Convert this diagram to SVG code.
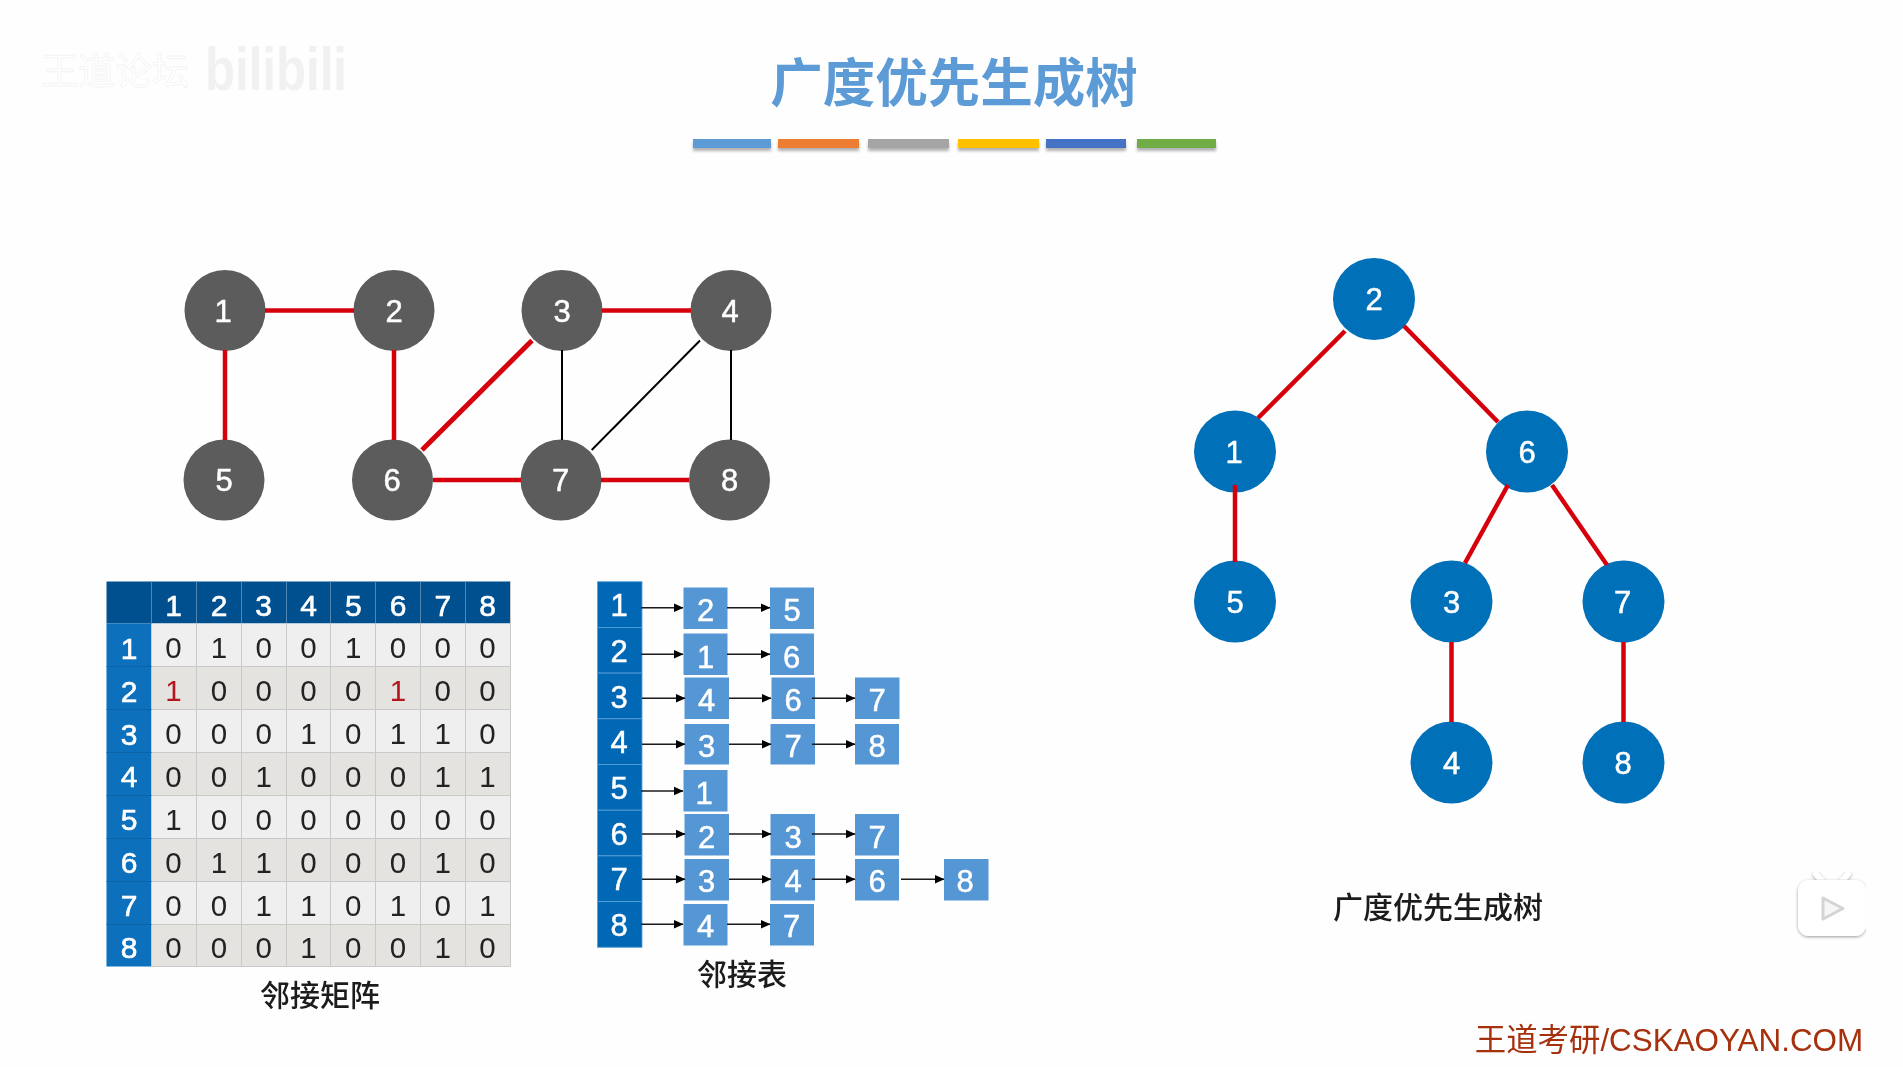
<svg xmlns="http://www.w3.org/2000/svg" width="1903" height="1067" viewBox="0 0 1903 1067">
<style>
text{font-family:"Liberation Sans",Arial,"Noto Sans CJK SC",sans-serif;text-anchor:middle}
.cjk{font-family:"Noto Sans CJK SC","Liberation Sans",sans-serif}
.n{font-size:31px;fill:#fff;stroke:#fff;stroke-width:.5}
.c{font-size:29.500px;fill:#222}
.h{font-size:30px;fill:#fff;stroke:#fff;stroke-width:.6}
.r{fill:#b3141c}
.lab{font-size:30px;font-weight:500;fill:#1a1a1a}
.gn{fill:#5b5b5b}
.tn{fill:#0570b8}
.red{stroke:#d6000a;stroke-width:4.500;fill:none}
.blk{stroke:#000;stroke-width:2;fill:none}
.arr{stroke:#1a1a1a;stroke-width:1.400;fill:none;marker-end:url(#ah)}
.box{fill:#5596d4}
.cell{stroke:#c9c9c9;stroke-width:1}
.odd{fill:#efefef}
.even{fill:#e4e3df}
.hd{fill:#0068b4;stroke:#5aa0d8;stroke-width:.8}
</style>
<defs>
<marker id="ah" markerUnits="userSpaceOnUse" markerWidth="10" markerHeight="10" refX="9.500" refY="5" orient="auto"><path d="M0 .5L10 5L0 9.500z" fill="#000"/></marker>
<filter id="sh" x="-10%" y="-50%" width="120%" height="220%"><feGaussianBlur stdDeviation="1.500"/></filter>
<filter id="ps" x="-20%" y="-20%" width="140%" height="140%"><feDropShadow dx="0" dy="1" stdDeviation="1.500" flood-color="#000" flood-opacity=".4"/></filter>
<filter id="soft" x="0" y="0" width="100%" height="100%"><feGaussianBlur stdDeviation=".45"/></filter>
</defs>
<rect width="1903" height="1067" fill="#fefefe"/>

<g filter="url(#soft)">
<g id="watermark">
<text class="cjk" x="115" y="85" font-size="37" fill="#fff" stroke="#f3f3f3" stroke-width=".8">王道论坛</text>
<text x="276" y="90" font-size="62" font-weight="700" fill="#f1f1f1" textLength="142" lengthAdjust="spacingAndGlyphs">bilibili</text>
</g>

<g id="title">
<text class="cjk" x="954" y="102" font-size="52.500" font-weight="700" fill="#5b9bd5">广度优先生成树</text>
<g fill="#000" opacity=".3" filter="url(#sh)">
<rect x="693" y="142" width="78" height="9"/><rect x="778" y="142" width="81" height="9"/><rect x="868" y="142" width="81" height="9"/><rect x="958" y="142" width="81" height="9"/><rect x="1046" y="142" width="80" height="9"/><rect x="1137" y="142" width="79" height="9"/>
</g>
<rect x="693" y="139" width="78" height="9" fill="#5b9bd5"/>
<rect x="778" y="139" width="81" height="9" fill="#ed7d31"/>
<rect x="868" y="139" width="81" height="9" fill="#a5a5a5"/>
<rect x="958" y="139" width="81" height="9" fill="#ffc000"/>
<rect x="1046" y="139" width="80" height="9" fill="#4472c4"/>
<rect x="1137" y="139" width="79" height="9" fill="#70ad47"/>
</g>

<g id="graph">
<g id="g1"><circle class="gn" cx="225" cy="310.500" r="40.500"/><text class="n" x="223" y="321.500">1</text></g>
<g id="g2"><circle class="gn" cx="394" cy="310.500" r="40.500"/><text class="n" x="394" y="321.500">2</text></g>
<g id="g3"><circle class="gn" cx="562" cy="310.500" r="40.500"/><text class="n" x="562" y="321.500">3</text></g>
<g id="g4"><circle class="gn" cx="731" cy="310.500" r="40.500"/><text class="n" x="730" y="321.500">4</text></g>
<g id="g5"><circle class="gn" cx="224" cy="480" r="40.500"/><text class="n" x="224" y="491">5</text></g>
<g id="g6"><circle class="gn" cx="392.500" cy="480" r="40.500"/><text class="n" x="392" y="491">6</text></g>
<g id="g7"><circle class="gn" cx="561" cy="480" r="40.500"/><text class="n" x="560.500" y="491">7</text></g>
<g id="g8"><circle class="gn" cx="729.500" cy="480" r="40.500"/><text class="n" x="729.500" y="491">8</text></g>
</g>

<g id="tree">
<g id="t2"><circle class="tn" cx="1374" cy="299" r="41"/><text class="n" x="1374" y="310">2</text></g>
<g id="t1"><circle class="tn" cx="1235" cy="451.500" r="41"/><text class="n" x="1234" y="463">1</text></g>
<g id="t6"><circle class="tn" cx="1527" cy="451.500" r="41"/><text class="n" x="1527" y="463">6</text></g>
<g id="t5"><circle class="tn" cx="1235" cy="601.500" r="41"/><text class="n" x="1235" y="612.500">5</text></g>
<g id="t3"><circle class="tn" cx="1451.500" cy="601.500" r="41"/><text class="n" x="1451.500" y="612.500">3</text></g>
<g id="t7"><circle class="tn" cx="1623.500" cy="601.500" r="41"/><text class="n" x="1622.500" y="612.500">7</text></g>
<g id="t4"><circle class="tn" cx="1451.500" cy="762.500" r="41"/><text class="n" x="1451.500" y="773.500">4</text></g>
<g id="t8"><circle class="tn" cx="1623.500" cy="762.500" r="41"/><text class="n" x="1623" y="773.500">8</text></g>
<text class="cjk lab" x="1438" y="918">广度优先生成树</text>
</g>

<g id="matrix">
<rect x="106.500" y="581.500" width="404" height="42" fill="#01508f"/>
<rect x="106.500" y="623.500" width="45" height="343" fill="#0a6fbd"/>
<rect class="odd" x="151.500" y="623.500" width="359" height="43"/>
<rect class="even" x="151.500" y="666.500" width="359" height="43"/>
<rect class="odd" x="151.500" y="709.500" width="359" height="43"/>
<rect class="even" x="151.500" y="752.500" width="359" height="43"/>
<rect class="odd" x="151.500" y="795.500" width="359" height="43"/>
<rect class="even" x="151.500" y="838.500" width="359" height="43"/>
<rect class="odd" x="151.500" y="881.500" width="359" height="43"/>
<rect class="even" x="151.500" y="924.500" width="359" height="42"/>
<path class="cell" style="stroke:#4f86b3" d="M151.500 581.500V623.500M196.500 581.500V623.500M241.500 581.500V623.500M286.500 581.500V623.500M330.500 581.500V623.500M375.500 581.500V623.500M420.500 581.500V623.500M465.500 581.500V623.500"/>
<path class="cell" d="M196.500 623.500V966.500M241.500 623.500V966.500M286.500 623.500V966.500M330.500 623.500V966.500M375.500 623.500V966.500M420.500 623.500V966.500M465.500 623.500V966.500M510.500 581.500V966.500M151.500 966.500H510.500M151.500 666.500H510.500M151.500 709.500H510.500M151.500 752.500H510.500M151.500 795.500H510.500M151.500 838.500H510.500M151.500 881.500H510.500M151.500 924.500H510.500"/>
<path d="M106.500 666.500H151.500M106.500 709.500H151.500M106.500 752.500H151.500M106.500 795.500H151.500M106.500 838.500H151.500M106.500 881.500H151.500M106.500 924.500H151.500" stroke="#0a63a8" fill="none"/>
<g>
<text class="h" x="173.500" y="616">1</text><text class="h" x="219" y="616">2</text><text class="h" x="263.700" y="616">3</text><text class="h" x="308.500" y="616">4</text><text class="h" x="353.300" y="616">5</text><text class="h" x="398" y="616">6</text><text class="h" x="442.800" y="616">7</text><text class="h" x="487.500" y="616">8</text>
<text class="h" x="129" y="658.500">1</text><text class="h" x="129" y="701.500">2</text><text class="h" x="129" y="744.500">3</text><text class="h" x="129" y="787">4</text><text class="h" x="129" y="829.500">5</text><text class="h" x="129" y="872.500">6</text><text class="h" x="129" y="915.500">7</text><text class="h" x="129" y="958">8</text>
</g>
<g id="row1"><text class="c" x="173.500" y="658">0</text><text class="c" x="219" y="658">1</text><text class="c" x="263.700" y="658">0</text><text class="c" x="308.500" y="658">0</text><text class="c" x="353.300" y="658">1</text><text class="c" x="398" y="658">0</text><text class="c" x="442.800" y="658">0</text><text class="c" x="487.500" y="658">0</text></g>
<g id="row2"><text class="c r" x="173.500" y="701">1</text><text class="c" x="219" y="701">0</text><text class="c" x="263.700" y="701">0</text><text class="c" x="308.500" y="701">0</text><text class="c" x="353.300" y="701">0</text><text class="c r" x="398" y="701">1</text><text class="c" x="442.800" y="701">0</text><text class="c" x="487.500" y="701">0</text></g>
<g id="row3"><text class="c" x="173.500" y="744">0</text><text class="c" x="219" y="744">0</text><text class="c" x="263.700" y="744">0</text><text class="c" x="308.500" y="744">1</text><text class="c" x="353.300" y="744">0</text><text class="c" x="398" y="744">1</text><text class="c" x="442.800" y="744">1</text><text class="c" x="487.500" y="744">0</text></g>
<g id="row4"><text class="c" x="173.500" y="786.500">0</text><text class="c" x="219" y="786.500">0</text><text class="c" x="263.700" y="786.500">1</text><text class="c" x="308.500" y="786.500">0</text><text class="c" x="353.300" y="786.500">0</text><text class="c" x="398" y="786.500">0</text><text class="c" x="442.800" y="786.500">1</text><text class="c" x="487.500" y="786.500">1</text></g>
<g id="row5"><text class="c" x="173.500" y="829.500">1</text><text class="c" x="219" y="829.500">0</text><text class="c" x="263.700" y="829.500">0</text><text class="c" x="308.500" y="829.500">0</text><text class="c" x="353.300" y="829.500">0</text><text class="c" x="398" y="829.500">0</text><text class="c" x="442.800" y="829.500">0</text><text class="c" x="487.500" y="829.500">0</text></g>
<g id="row6"><text class="c" x="173.500" y="872.500">0</text><text class="c" x="219" y="872.500">1</text><text class="c" x="263.700" y="872.500">1</text><text class="c" x="308.500" y="872.500">0</text><text class="c" x="353.300" y="872.500">0</text><text class="c" x="398" y="872.500">0</text><text class="c" x="442.800" y="872.500">1</text><text class="c" x="487.500" y="872.500">0</text></g>
<g id="row7"><text class="c" x="173.500" y="915.500">0</text><text class="c" x="219" y="915.500">0</text><text class="c" x="263.700" y="915.500">1</text><text class="c" x="308.500" y="915.500">1</text><text class="c" x="353.300" y="915.500">0</text><text class="c" x="398" y="915.500">1</text><text class="c" x="442.800" y="915.500">0</text><text class="c" x="487.500" y="915.500">1</text></g>
<g id="row8"><text class="c" x="173.500" y="958">0</text><text class="c" x="219" y="958">0</text><text class="c" x="263.700" y="958">0</text><text class="c" x="308.500" y="958">1</text><text class="c" x="353.300" y="958">0</text><text class="c" x="398" y="958">0</text><text class="c" x="442.800" y="958">1</text><text class="c" x="487.500" y="958">0</text></g>
<text class="cjk lab" x="320" y="1005.500">邻接矩阵</text>
</g>

<g id="adjacency-list">
<g id="heads">
<rect class="hd" x="597.500" y="581.700" width="44.500" height="45.700"/><rect class="hd" x="597.500" y="627.400" width="44.500" height="45.700"/><rect class="hd" x="597.500" y="673.100" width="44.500" height="45.700"/><rect class="hd" x="597.500" y="718.800" width="44.500" height="45.700"/><rect class="hd" x="597.500" y="764.500" width="44.500" height="45.700"/><rect class="hd" x="597.500" y="810.200" width="44.500" height="45.700"/><rect class="hd" x="597.500" y="855.900" width="44.500" height="45.700"/><rect class="hd" x="597.500" y="901.600" width="44.500" height="45.700"/>
<text class="n" x="619" y="616">1</text><text class="n" x="619" y="661.500">2</text><text class="n" x="619" y="707.500">3</text><text class="n" x="619" y="753">4</text><text class="n" x="619" y="798.500">5</text><text class="n" x="619" y="845">6</text><text class="n" x="619" y="890">7</text><text class="n" x="619" y="936">8</text>
</g>
<g id="l1"><rect class="box" x="683.500" y="587.500" width="44" height="41.500"/><rect class="box" x="770" y="587.500" width="44" height="41.500"/><text class="n" x="705.500" y="620.500">2</text><text class="n" x="792" y="620.500">5</text></g>
<g id="l2"><rect class="box" x="683.500" y="633.500" width="44" height="41.500"/><rect class="box" x="770" y="633.500" width="44" height="41.500"/><text class="n" x="705.500" y="668">1</text><text class="n" x="791.500" y="668">6</text></g>
<g id="l3"><rect class="box" x="684.500" y="677.500" width="44.500" height="41.500"/><rect class="box" x="771.500" y="677.500" width="43.500" height="41.500"/><rect class="box" x="855" y="677.500" width="44.500" height="41.500"/><text class="n" x="706.500" y="711">4</text><text class="n" x="793" y="711">6</text><text class="n" x="877" y="711">7</text></g>
<g id="l4"><rect class="box" x="684.500" y="724" width="44.500" height="40.500"/><rect class="box" x="770.500" y="724" width="44.500" height="40.500"/><rect class="box" x="855" y="724" width="44" height="40.500"/><text class="n" x="706.500" y="756.500">3</text><text class="n" x="793" y="756.500">7</text><text class="n" x="877" y="756.500">8</text></g>
<g id="l5"><rect class="box" x="683.500" y="770" width="44" height="41.500"/><text class="n" x="704" y="804">1</text></g>
<g id="l6"><rect class="box" x="684.500" y="814" width="44.500" height="41.500"/><rect class="box" x="770.500" y="814" width="44.500" height="41.500"/><rect class="box" x="855" y="814" width="44" height="41.500"/><text class="n" x="706.500" y="847.500">2</text><text class="n" x="793" y="847.500">3</text><text class="n" x="877" y="847.500">7</text></g>
<g id="l7"><rect class="box" x="684.500" y="859" width="44.500" height="41.500"/><rect class="box" x="770.500" y="859" width="44.500" height="41.500"/><rect class="box" x="855" y="859" width="44" height="41.500"/><rect class="box" x="944" y="859" width="44.500" height="41.500"/><text class="n" x="706.500" y="891.500">3</text><text class="n" x="793" y="891.500">4</text><text class="n" x="877" y="891.500">6</text><text class="n" x="965" y="891.500">8</text></g>
<g id="l8"><rect class="box" x="683.500" y="904" width="44" height="41.500"/><rect class="box" x="770" y="904" width="44" height="41.500"/><text class="n" x="705.500" y="936.500">4</text><text class="n" x="791.500" y="936.500">7</text></g>
<text class="cjk lab" x="742" y="985">邻接表</text>
</g>

<g id="connectors">
<g id="graph-edges">
<path class="red" d="M265 310.500H354"/>
<path class="red" d="M225 350V440"/>
<path class="red" d="M394 350V440"/>
<path class="red" d="M602 310.500H691"/>
<path class="red" style="stroke-width:5" d="M532 340.500L422 450"/>
<path class="blk" d="M562 350V440"/>
<path class="blk" d="M700 340.500L591.700 450"/>
<path class="blk" d="M731 350V440"/>
<path class="red" d="M433 480H521"/>
<path class="red" d="M601 480H689"/>
</g>
<g id="tree-edges">
<path class="red" d="M1345 331L1258 418"/>
<path class="red" d="M1404 326L1498 422"/>
<path class="red" d="M1235 485V562"/>
<path class="red" d="M1508 485L1465 563"/>
<path class="red" d="M1552 485L1607 565"/>
<path class="red" d="M1451.500 642V722"/>
<path class="red" d="M1623.500 642V722"/>
</g>
<g id="list-arrows">
<path class="arr" d="M641 607.700H683"/><path class="arr" d="M727 607.700H770"/>
<path class="arr" d="M641 654.300H683"/><path class="arr" d="M727 654.300H770"/>
<path class="arr" d="M642 698.300H685"/><path class="arr" d="M729 698.300H771"/><path class="arr" d="M812 698.300H855"/>
<path class="arr" d="M642 744.300H685"/><path class="arr" d="M729 744.300H771"/><path class="arr" d="M812 744.300H855"/>
<path class="arr" d="M641 791H683"/>
<path class="arr" d="M642 834H685"/><path class="arr" d="M729 834H771"/><path class="arr" d="M812 834H855"/>
<path class="arr" d="M642 879.300H685"/><path class="arr" d="M729 879.300H771"/><path class="arr" d="M812 879.300H855"/><path class="arr" d="M901 879.300H944"/>
<path class="arr" d="M641 924.300H683"/><path class="arr" d="M727 924.300H770"/>
</g>
</g>

<g id="play-badge">
<path d="M1823 882L1816 874M1841 882L1848 874" stroke="#fff" stroke-width="6" stroke-linecap="round" filter="url(#ps)"/>
<rect x="1798" y="880" width="68" height="56" rx="11" fill="#fff" filter="url(#ps)"/>
<path d="M1823 898L1843 908.500L1823 919z" fill="#f6f6f6" stroke="#d4d4d4" stroke-width="3" stroke-linejoin="round"/>
</g>

<text id="brand" x="1669" y="1051" font-size="31.400" fill="#a6300f">王道考研/CSKAOYAN.COM</text>
</g>
</svg>
